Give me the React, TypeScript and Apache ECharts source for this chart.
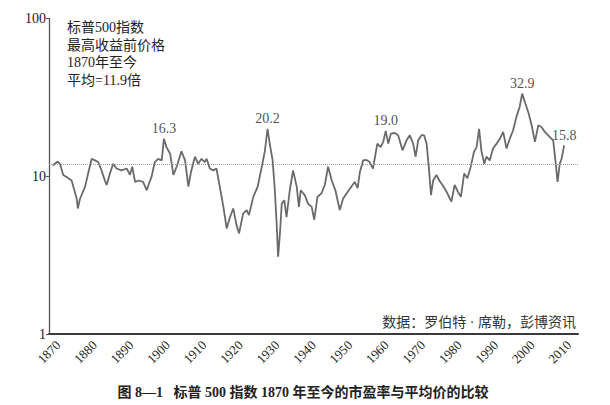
import React, { useEffect, useRef } from "react";
import * as echarts from "echarts";

const years = [
  1871.0, 1872.4, 1873.0, 1873.9, 1874.8, 1876.2, 1877.6, 1877.9, 1878.5, 1879.9,
  1880.8, 1881.7, 1882.6, 1883.5, 1884.4, 1885.3, 1885.8, 1886.7, 1887.6, 1888.5,
  1889.9, 1891.3, 1892.2, 1892.8, 1893.6, 1894.5, 1895.8, 1896.8, 1897.4, 1898.1,
  1899.0, 1899.9, 1900.9, 1901.5, 1902.2, 1903.2, 1904.1, 1905.0, 1906.3, 1907.3,
  1908.2, 1908.9, 1910.0, 1910.9, 1911.8, 1912.7, 1913.2, 1914.1, 1915.0, 1915.9,
  1916.8, 1917.8, 1918.7, 1919.6, 1920.5, 1921.4, 1922.1, 1923.2, 1924.2, 1924.8,
  1926.0, 1927.2, 1928.4, 1929.2, 1929.9, 1930.5, 1931.3, 1931.9, 1932.4, 1932.8,
  1933.3, 1933.8, 1934.5, 1935.1, 1936.0, 1936.9, 1937.9, 1938.5, 1939.0, 1940.1,
  1941.0, 1942.0, 1942.7, 1943.6, 1944.7, 1945.6, 1946.5, 1947.5, 1948.5, 1949.7,
  1950.6, 1951.6, 1952.9, 1953.8, 1954.6, 1955.2, 1956.1, 1957.0, 1957.9, 1958.8,
  1960.0, 1960.9, 1961.6, 1962.3, 1963.0, 1963.7, 1964.8, 1965.7, 1966.9, 1968.0,
  1968.9, 1969.8, 1970.5, 1971.2, 1972.1, 1972.8, 1973.5, 1974.1, 1974.7, 1975.3,
  1976.2, 1977.1, 1978.0, 1979.0, 1979.9, 1980.3, 1981.2, 1982.1, 1982.9, 1983.8,
  1984.7, 1985.6, 1986.5, 1987.2, 1987.9, 1988.5, 1989.3, 1989.9, 1990.8, 1991.7,
  1992.7, 1993.6, 1994.5, 1995.4, 1996.3, 1997.2, 1998.1, 1999.0, 1999.7, 2000.6,
  2001.5, 2002.4, 2003.2, 2004.1, 2005.0, 2005.9, 2007.3, 2008.2, 2008.8, 2009.4,
  2010.0, 2010.5, 2011.2,
];

const peValues = [
  11.7, 12.4, 12.0, 10.2, 9.9, 9.4, 7.2, 6.25, 7.2, 8.6,
  10.6, 12.9, 12.6, 12.3, 10.9, 9.4, 8.8, 10.4, 12.0, 11.2,
  10.9, 11.2, 10.2, 11.5, 9.2, 9.4, 9.2, 8.15, 9.0, 9.9,
  12.3, 12.9, 12.6, 17.3, 15.3, 13.9, 10.2, 11.5, 14.4, 12.6,
  8.6, 10.6, 13.3, 12.0, 12.9, 12.3, 12.9, 11.2, 10.9, 11.2,
  8.6, 6.4, 4.67, 5.5, 6.25, 4.9, 4.34, 5.8, 6.1, 5.67,
  7.4, 8.6, 11.7, 14.6, 20.0, 16.1, 12.6, 8.15, 5.0, 3.09,
  4.34, 6.7, 7.05, 5.5, 8.15, 10.9, 8.6, 6.4, 8.15, 7.6,
  6.7, 6.4, 5.3, 7.4, 7.8, 8.8, 11.5, 9.4, 8.15, 6.1,
  7.2, 7.8, 8.6, 9.2, 8.4, 10.6, 12.6, 12.7, 12.3, 11.2,
  16.1, 15.3, 16.5, 19.4, 16.1, 18.6, 18.8, 18.2, 14.6, 16.9,
  18.2, 16.1, 13.3, 16.9, 18.2, 18.2, 16.1, 11.5, 7.6, 9.4,
  10.2, 9.3, 8.7, 7.95, 7.2, 6.9, 8.8, 7.95, 7.4, 10.4,
  9.7, 11.5, 14.3, 15.3, 20.0, 14.6, 12.0, 13.3, 12.6, 15.0,
  16.1, 17.3, 19.1, 15.0, 17.3, 19.5, 23.7, 27.5, 33.4, 28.8,
  24.9, 20.5, 16.5, 21.0, 20.5, 19.1, 17.7, 16.9, 12.6, 9.2,
  12.0, 12.9, 15.7,
];

const meanPE = 11.9;

const peakYears = [1901.5, 1929.9, 1962.3, 1999.7, 2011.2];
const peakValues = [17.3, 20.0, 19.4, 33.4, 15.7];
const peakLabels = ["16.3", "20.2", "19.0", "32.9", "15.8"];

const xMin = 1870;
const xMax = 2015;
const xTickStep = 10;
const yMin = 1;
const yMax = 100;

const noteLines = ["标普500指数", "最高收益前价格", "1870年至今", "平均=11.9倍"];
const sourceText = "数据：罗伯特 · 席勒，彭博资讯";
const captionText = "图 8—1   标普 500 指数 1870 年至今的市盈率与平均价的比较";

const SERIF = '"Liberation Serif", "DejaVu Serif", "Noto Sans CJK SC", serif';

export default function App() {
  const ref = useRef<HTMLDivElement>(null);

  useEffect(() => {
    if (!ref.current) return;
    const chart = echarts.init(ref.current, undefined, { renderer: "svg" });

    const lineData = years.map((y, i) => [y, peValues[i]]);
    const peakData = peakYears.map((y, i) => [y, peakValues[i]]);

    chart.setOption({
      animation: false,
      backgroundColor: "#ffffff",
      textStyle: { fontFamily: SERIF },
      grid: { left: 49, right: 32, top: 18.5, bottom: 71, containLabel: false },
      xAxis: {
        type: "value",
        min: xMin,
        max: xMax,
        interval: xTickStep,
        axisLine: { show: true, lineStyle: { color: "#3a3a3a", width: 2 } },
        axisTick: { show: false },
        splitLine: { show: false },
        axisLabel: {
          rotate: 45,
          align: "center",
          verticalAlign: "middle",
          margin: 18,
          fontSize: 13,
          fontFamily: SERIF,
          color: "#222",
          showMaxLabel: false,
          formatter: (v: number) => (v % 10 === 0 && v <= 2010 ? String(v) : ""),
        },
      },
      yAxis: {
        type: "log",
        logBase: 10,
        min: yMin,
        max: yMax,
        axisLine: { show: true, lineStyle: { color: "#555", width: 1.3 } },
        axisTick: { show: true, length: 3, lineStyle: { color: "#555" } },
        minorTick: { show: false },
        splitLine: { show: false },
        axisLabel: {
          margin: 3,
          fontSize: 14,
          fontFamily: SERIF,
          color: "#222",
        },
      },
      series: [
        {
          type: "line",
          data: lineData,
          showSymbol: false,
          symbol: "none",
          lineStyle: { color: "#6a6a6a", width: 1.8 },
          z: 3,
          markLine: {
            silent: true,
            symbol: ["none", "none"],
            label: { show: false },
            lineStyle: { type: "dotted", color: "#999", width: 1 },
            data: [{ yAxis: meanPE }],
          },
        },
        {
          type: "scatter",
          data: peakData,
          symbolSize: 0,
          silent: true,
          z: 4,
          label: {
            show: true,
            position: "top",
            distance: 3,
            fontSize: 14,
            fontFamily: SERIF,
            color: "#222",
            formatter: (p: any) => peakLabels[p.dataIndex],
          },
        },
      ],
      graphic: [
        {
          type: "text",
          left: 67,
          top: 19,
          style: {
            text: noteLines.join("\n"),
            font: `14px ${SERIF}`,
            lineHeight: 17.5,
            fill: "#222",
          },
        },
        {
          type: "text",
          x: 576,
          y: 322,
          style: {
            text: sourceText,
            font: `14px ${SERIF}`,
            fill: "#333",
            textAlign: "right",
            textVerticalAlign: "middle",
          },
        },
        {
          type: "text",
          x: 303,
          y: 392,
          style: {
            text: captionText,
            font: `bold 14px ${SERIF}`,
            fill: "#222",
            textAlign: "center",
            textVerticalAlign: "middle",
          },
        },
      ],
    });

    return () => {
      chart.dispose();
    };
  }, []);

  return (
    <div
      ref={ref}
      style={{ position: "absolute", left: 0, top: 0, width: 610, height: 405 }}
    />
  );
}
